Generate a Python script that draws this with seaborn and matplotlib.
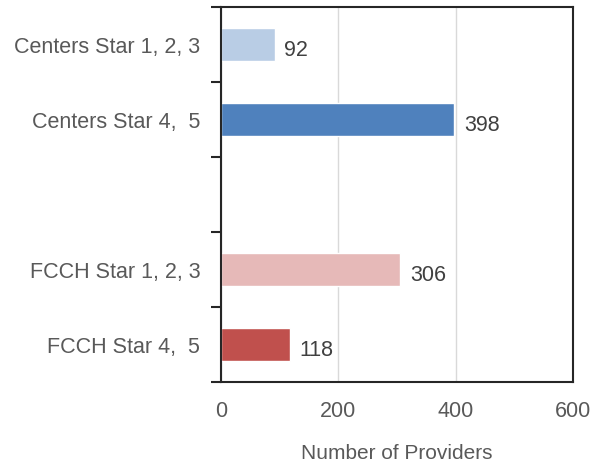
import matplotlib
matplotlib.use("Agg")
import matplotlib.pyplot as plt
import seaborn as sns
import pandas as pd
from matplotlib.ticker import FixedLocator

categories = ["Centers Star 1, 2, 3", "Centers Star 4,  5", "FCCH Star 1, 2, 3", "FCCH Star 4,  5"]
values = [92, 398, 306, 118]
colors = ["#B9CDE5", "#4F81BD", "#E6B9B8", "#C0504D"]
order = ["Centers Star 1, 2, 3", "Centers Star 4,  5", " ", "FCCH Star 1, 2, 3", "FCCH Star 4,  5"]
xticks = [0, 200, 400, 600]

sns.set_theme(style="white")
plt.rcParams['font.family'] = ['Liberation Sans', 'DejaVu Sans']

df = pd.DataFrame({"cat": categories, "val": values})
palette = dict(zip(categories, colors))

fig = plt.figure(figsize=(6.03, 4.64), dpi=100)
ax = fig.add_axes([0.3665, 0.1746, 0.950 - 0.3665, 0.9828 - 0.1746])
sns.barplot(data=df, x="val", y="cat", hue="cat", order=order, hue_order=categories,
            palette=palette, orient="h", width=0.45, legend=False, ax=ax, saturation=1)

ax.set_xlim(0, 600)
ax.set_ylim(len(order) - 0.5, -0.5)
ax.set_xticks(xticks)
ax.set_xticklabels([str(t) for t in xticks], fontsize=15.5, color="#595959")
ax.xaxis.grid(True, color="#D9D9D9", linewidth=1)
ax.set_axisbelow(True)

pos = [order.index(c) for c in categories]
ax.set_yticks(pos)
ax.set_yticklabels(categories, fontsize=15.5, color="#595959")
ax.tick_params(axis="y", which="major", length=0, pad=15)
ax.yaxis.set_minor_locator(FixedLocator([i - 0.5 for i in range(len(order) + 1)]))
ax.tick_params(axis="y", which="minor", length=7, width=1.5, color="#262626", direction="out", left=True)
ax.tick_params(axis="x", length=0, pad=13)

for p, v in zip(pos, values):
    ax.text(v + 16, p + 0.07, str(v), va="center", ha="left", fontsize=15.5, color="#404040")

ax.set_xlabel("Number of Providers", fontsize=15, color="#595959", labelpad=16)
ax.set_ylabel("")
for s in ax.spines.values():
    s.set_visible(True)
    s.set_color("#262626")
    s.set_linewidth(1.5)

fig.savefig("out.png", dpi=100)
